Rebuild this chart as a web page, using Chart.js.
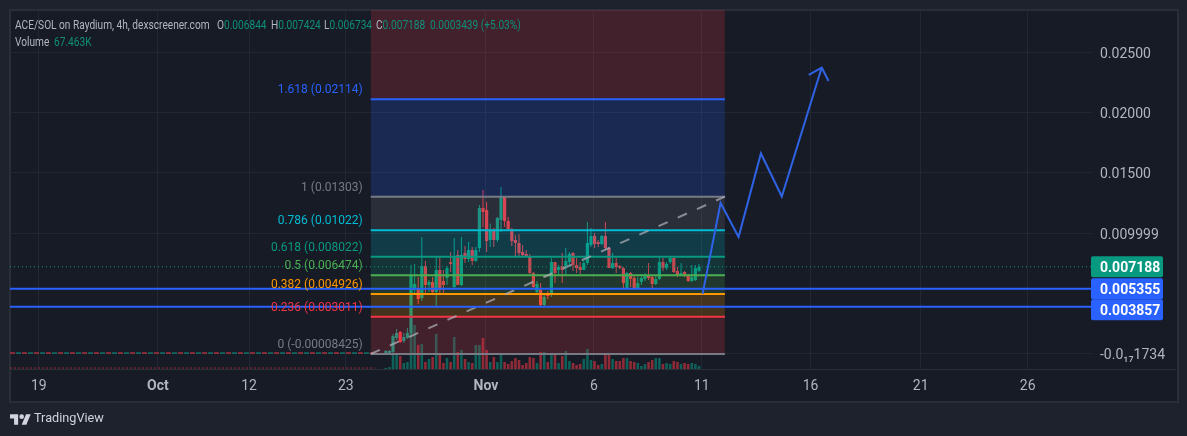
<!DOCTYPE html>
<html>
<head>
<meta charset="utf-8">
<title>ACE/SOL</title>
<script src="https://cdn.jsdelivr.net/npm/chart.js@4"></script>
<style>
  html, body { margin: 0; padding: 0; background: #1e222d; overflow: hidden; }
  body { width: 1187px; height: 436px; position: relative; font-family: Roboto, sans-serif; }
  #panel { position: absolute; left: 9px; top: 9px; width: 1166px; height: 390px; background: #171b26; border: 2px solid #2a2e39; }
  #sep { position: absolute; left: 10px; top: 369px; width: 1166px; height: 1px; background: #2a2e39; }
  canvas { position: absolute; left: 0; top: 0; }
  .t { position: absolute; font-size: 13px; line-height: 14px; color: #b2b5be; white-space: nowrap; z-index: 2; transform: scaleX(0.78); transform-origin: left center; }
  .g { color: #0f8f78; }
  #logo { position: absolute; left: 10px; top: 412px; width: 21px; height: 14px; fill: #d1d4dc; }
  #brand { position: absolute; left: 34px; top: 410px; font-size: 12.7px; line-height: 16px; color: #d1d4dc; }
</style>
</head>
<body>
<div id="panel"></div>
<div id="sep"></div>
<canvas id="chart" width="1187" height="436"></canvas>
<div class="t" style="left:15px;top:18px">ACE/SOL on Raydium, 4h, dexscreener.com</div>
<div class="t" style="left:217px;top:18px">O<span class="g">0.006844</span></div>
<div class="t" style="left:271px;top:18px">H<span class="g">0.007424</span></div>
<div class="t" style="left:324px;top:18px">L<span class="g">0.006734</span></div>
<div class="t" style="left:376px;top:18px">C<span class="g">0.007188</span></div>
<div class="t g" style="left:430px;top:18px">0.0003439 (+5.03%)</div>
<div class="t" style="left:15px;top:35px">Volume</div>
<div class="t g" style="left:54px;top:35px">67.463K</div>
<svg id="logo" viewBox="0 0 36 24"><path d="M14 22H7V11H0V4h14v18zM28 22h-8l7.5-18h8L28 22z"/><circle cx="20" cy="8" r="4"/></svg>
<div id="brand">TradingView</div>

<script>
const opens = [0, -0.00008, 0.00008, 0.00125, 0.00175, 0.001, 0.00125, 0.00167, 0.00525, 0.00542, 0.00458, 0.00725, 0.00567, 0.00592, 0.00508, 0.00692, 0.006, 0.00625, 0.00758, 0.0055, 0.00817, 0.00567, 0.00833, 0.00783, 0.00858, 0.00767, 0.00875, 0.01208, 0.01192, 0.00942, 0.01025, 0.00942, 0.01108, 0.013, 0.011, 0.01033, 0.00942, 0.00917, 0.00842, 0.00825, 0.00808, 0.00667, 0.00508, 0.00525, 0.004, 0.005, 0.005, 0.00758, 0.00692, 0.00725, 0.00717, 0.00758, 0.00833, 0.00733, 0.00717, 0.00692, 0.00750, 0.009, 0.00975, 0.00925, 0.00908, 0.00975, 0.00875, 0.00708, 0.0075, 0.00725, 0.00708, 0.00542, 0.00667, 0.00625, 0.00542, 0.00592, 0.00617, 0.00642, 0.00633, 0.00575, 0.00617, 0.00758, 0.00708, 0.00758, 0.00792, 0.00683, 0.00650, 0.00675, 0.00642, 0.006, 0.00608, 0.006844];
const highs = [0.00025, 0.00025, 0.00158, 0.002, 0.00183, 0.00167, 0.00208, 0.00733, 0.00742, 0.00633, 0.00967, 0.00767, 0.00608, 0.00633, 0.008, 0.008, 0.00692, 0.00725, 0.00842, 0.00958, 0.00858, 0.00967, 0.00892, 0.00925, 0.00883, 0.00883, 0.01233, 0.01358, 0.01258, 0.0108, 0.01042, 0.01133, 0.01383, 0.01308, 0.01133, 0.01042, 0.00983, 0.00992, 0.009, 0.00858, 0.00825, 0.00675, 0.006, 0.00583, 0.00483, 0.00517, 0.00792, 0.00758, 0.00733, 0.00833, 0.00875, 0.00842, 0.00842, 0.00792, 0.00758, 0.00767, 0.01092, 0.01042, 0.01, 0.00942, 0.00983, 0.01092, 0.00883, 0.00833, 0.00792, 0.00733, 0.00717, 0.00675, 0.00675, 0.00642, 0.00633, 0.00658, 0.00667, 0.0075, 0.00642, 0.00650, 0.00792, 0.00792, 0.00758, 0.00792, 0.00792, 0.00717, 0.0075, 0.00683, 0.00658, 0.00733, 0.00733, 0.007424];
const lows = [-0.00008, -0.00008, 0, 0.00108, 0.00083, 0.00083, 0.00117, 0.0015, 0.005, 0.00408, 0.00433, 0.005, 0.00508, 0.005, 0.00392, 0.00483, 0.00483, 0.00567, 0.00675, 0.00542, 0.00567, 0.00558, 0.0075, 0.00758, 0.00733, 0.00758, 0.00842, 0.0105, 0.00842, 0.00883, 0.00883, 0.00925, 0.01008, 0.0105, 0.01025, 0.00892, 0.00792, 0.008, 0.008, 0.008, 0.00658, 0.00542, 0.005, 0.00392, 0.00392, 0.00450, 0.00467, 0.00583, 0.00642, 0.00583, 0.00650, 0.00733, 0.00683, 0.00667, 0.00658, 0.00692, 0.00733, 0.00883, 0.00875, 0.00883, 0.009, 0.00858, 0.00708, 0.007, 0.00667, 0.007, 0.00542, 0.00542, 0.00550, 0.00533, 0.00533, 0.00567, 0.006, 0.00608, 0.00542, 0.00567, 0.00608, 0.00683, 0.00692, 0.00742, 0.00667, 0.00633, 0.00650, 0.00633, 0.00592, 0.00592, 0.006, 0.006734];
const closes = [0.00017, 0.00017, 0.00142, 0.00167, 0.00092, 0.00133, 0.00167, 0.00642, 0.00575, 0.0045, 0.00725, 0.00567, 0.00592, 0.00508, 0.00692, 0.00525, 0.00567, 0.00708, 0.00742, 0.00808, 0.00567, 0.00817, 0.00783, 0.00858, 0.00767, 0.00858, 0.01208, 0.01175, 0.00933, 0.01025, 0.00942, 0.01125, 0.013, 0.011, 0.01033, 0.00933, 0.00917, 0.00833, 0.00817, 0.00808, 0.00667, 0.0055, 0.00575, 0.004, 0.00467, 0.00475, 0.00758, 0.00667, 0.00717, 0.00692, 0.00767, 0.00825, 0.00733, 0.00708, 0.00692, 0.0075, 0.00917, 0.00975, 0.00908, 0.00908, 0.00975, 0.00875, 0.00708, 0.0075, 0.00717, 0.00708, 0.00583, 0.00667, 0.00617, 0.00542, 0.00583, 0.00625, 0.00642, 0.00625, 0.00575, 0.00617, 0.00758, 0.00708, 0.00742, 0.00792, 0.00675, 0.00650, 0.00667, 0.00642, 0.006, 0.00633, 0.00708, 0.007188];
const volumes = [22, 45, 338, 338, 292, 135, 158, 832, 990, 540, 562, 158, 225, 270, 788, 315, 135, 248, 158, 720, 382, 428, 225, 158, 135, 540, 540, 698, 428, 158, 270, 158, 338, 158, 112, 180, 248, 202, 90, 135, 270, 248, 135, 382, 382, 158, 315, 315, 135, 292, 405, 180, 135, 90, 112, 225, 450, 202, 180, 90, 112, 315, 315, 225, 180, 180, 248, 248, 180, 158, 135, 68, 112, 158, 202, 248, 248, 112, 135, 112, 180, 158, 112, 135, 112, 135, 112, 67.463];

const fibRatios = ["2.618", "1.618", "1", "0.786", "0.618", "0.5", "0.382", "0.236", "0"];
const fibPrices = [0.03424, 0.02114, 0.01303, 0.01022, 0.008022, 0.006474, 0.004926, 0.003011, -0.00008425];
const fibTexts = ["", "0.02114", "0.01303", "0.01022", "0.008022", "0.006474", "0.004926", "0.003011", "-0.00008425"];
const fibColors = ["242,54,69", "41,98,255", "120,123,134", "0,188,212", "8,153,129", "76,175,80", "255,152,0", "242,54,69", "120,123,134"];
const fibStartBar = -4.2;
const fibEndBar = 94.2;

const forecastBars = [88, 93, 98, 104.2, 110, 121.1];
const forecastPrices = [0.00492, 0.0125, 0.00967, 0.01663, 0.01304, 0.02379];
const arrowBars = [117.5, 121.1, 123];
const arrowPrices = [0.02317, 0.02379, 0.02267];

const lastPrice = 0.007188;
const blueLevels = [0.005355, 0.003857];
const boxPrices = [0.007188, 0.005355, 0.003857];
const boxLabels = ["0.007188", "0.005355", "0.003857"];
const boxColors = ["#089981", "#2962ff", "#2962ff"];

const yTickValues = [-1.734e-18, 0.009999, 0.015, 0.02, 0.025];
const yTickLabels = ["-0.0₁₇1734", "0.009999", "0.01500", "0.02000", "0.02500"];
const xTickBars = [-96.4, -63.3, -38, -11.1, 27.8, 57.8, 87.8, 118, 148.6, 178.3];
const xTickLabels = ["19", "Oct", "12", "23", "Nov", "6", "11", "16", "21", "26"];
const boldTicks = ["Oct", "Nov"];

const barMin = -104.4;
const barMax = 195.9;
const flatEndBar = -3;

Chart.defaults.font.family = "Roboto, sans-serif";

const isUp = (i) => closes[i] >= opens[i];
const upColor = "#089981";
const downColor = "#f23645";

function hline(x0, x1, y, color, extra) {
  return Object.assign({
    type: "line",
    data: [{ x: x0, y: y }, { x: x1, y: y }],
    borderColor: color,
    borderWidth: 2,
    pointRadius: 0,
    fill: false,
    tension: 0,
    yAxisID: "y",
  }, extra || {});
}

const datasets = [];

datasets.push({
  data: volumes.map((v, i) => ({ x: i, y: v })),
  yAxisID: "yVol",
  grouped: false,
  barThickness: 2.6,
  inflateAmount: 0,
  backgroundColor: volumes.map((v, i) => (isUp(i) ? "rgba(8,153,129,0.55)" : "rgba(242,54,69,0.55)")),
  order: 30,
});

datasets.push({
  data: opens.map((v, i) => ({ x: i, y: [lows[i], highs[i]] })),
  yAxisID: "y",
  grouped: false,
  barThickness: 1,
  inflateAmount: 0,
  backgroundColor: opens.map((v, i) => (isUp(i) ? upColor : downColor)),
  order: 22,
});

datasets.push({
  data: opens.map((v, i) => ({ x: i, y: [v, closes[i]] })),
  yAxisID: "y",
  grouped: false,
  barThickness: 3.2,
  inflateAmount: 0,
  backgroundColor: opens.map((v, i) => (isUp(i) ? upColor : downColor)),
  order: 21,
});

// flat stretch before the pair had any real trading
datasets.push(hline(barMin, flatEndBar, 0, "#f23645", { borderWidth: 1, borderDash: [5, 7], order: 25 }));
datasets.push(hline(barMin, flatEndBar, 0, "#089981", { borderWidth: 1, borderDash: [5, 7], borderDashOffset: 6, order: 24 }));
datasets.push(hline(barMin, flatEndBar, 22, "rgba(242,54,69,0.6)", { borderWidth: 1, borderDash: [2, 2], yAxisID: "yVol", order: 26 }));

// bands first, then the level lines on top so no band covers a line
fibPrices.forEach((price, i) => {
  if (i === fibPrices.length - 1) return;
  datasets.push(hline(fibStartBar, fibEndBar, price, "transparent", {
    borderWidth: 0,
    fill: { value: fibPrices[i + 1] },
    backgroundColor: `rgba(${fibColors[i]},0.2)`,
    order: 12,
  }));
});
fibPrices.forEach((price, i) => {
  datasets.push(hline(fibStartBar, fibEndBar, price, `rgb(${fibColors[i]})`, { order: 10 }));
});

datasets.push({
  type: "line",
  data: [{ x: fibStartBar, y: fibPrices[8] }, { x: fibEndBar, y: fibPrices[2] }],
  borderColor: "rgba(170,172,182,0.75)",
  borderWidth: 2,
  borderDash: [10, 11],
  pointRadius: 0,
  yAxisID: "y",
  order: 6,
});

datasets.push(hline(barMin, barMax, lastPrice, "#089981", { borderWidth: 1, borderDash: [1, 3], order: 5 }));
blueLevels.forEach((p) => datasets.push(hline(barMin, barMax, p, "#2962ff", { order: 4 })));

datasets.push({
  type: "line",
  data: forecastBars.map((b, i) => ({ x: b, y: forecastPrices[i] })),
  borderColor: "#2f63e6",
  borderWidth: 2,
  pointRadius: 0,
  tension: 0,
  yAxisID: "y",
  order: 3,
});
datasets.push({
  type: "line",
  data: arrowBars.map((b, i) => ({ x: b, y: arrowPrices[i] })),
  borderColor: "#2f63e6",
  borderWidth: 2,
  pointRadius: 0,
  tension: 0,
  yAxisID: "y",
  order: 3,
});

const overlayPlugin = {
  id: "overlay",
  beforeDraw(chart) {
    // canvas "middle" sits a little high with Roboto, nudge the axis labels down
    chart.scales.y.getLabelItems().forEach((item) => { item.options.translation[1] += 2; });
  },
  afterDraw(chart) {
    const ctx = chart.ctx;
    const y = chart.scales.y;
    const x = chart.scales.x;

    // fib level captions
    ctx.save();
    ctx.font = "12px Roboto, sans-serif";
    ctx.textAlign = "right";
    ctx.textBaseline = "middle";
    fibRatios.forEach((ratio, i) => {
      if (!fibTexts[i]) return;
      ctx.fillStyle = `rgb(${fibColors[i]})`;
      ctx.fillText(`${ratio} (${fibTexts[i]})`, x.getPixelForValue(fibStartBar) - 8, y.getPixelForValue(fibPrices[i]) - 9);
    });
    ctx.restore();

    // price boxes on the axis, pushed down when they would overlap
    const boxH = 21;
    const boxW = 72;
    let lastBottom = -Infinity;
    ctx.save();
    ctx.font = "bold 14px Roboto, sans-serif";
    ctx.textAlign = "left";
    ctx.textBaseline = "middle";
    boxPrices.forEach((p, i) => {
      let top = y.getPixelForValue(p) - boxH / 2;
      if (top < lastBottom) top = lastBottom;
      lastBottom = top + boxH;
      ctx.fillStyle = boxColors[i];
      ctx.beginPath();
      ctx.roundRect(chart.chartArea.right, top, boxW, boxH, 2);
      ctx.fill();
      ctx.fillStyle = "#ffffff";
      ctx.fillText(boxLabels[i], chart.chartArea.right + 9, top + boxH / 2 + 1.5);
    });
    ctx.restore();
  },
};

new Chart(document.getElementById("chart"), {
  type: "bar",
  data: { datasets: datasets },
  plugins: [overlayPlugin],
  options: {
    responsive: false,
    animation: false,
    layout: { padding: { left: 10, top: 10, right: 0, bottom: 0 } },
    plugins: { legend: { display: false }, tooltip: { enabled: false }, title: { display: false } },
    scales: {
      x: {
        type: "linear",
        offset: false,
        min: barMin,
        max: barMax,
        grid: { color: "#232733", drawTicks: false, offset: false },
        border: { display: false },
        afterBuildTicks: (s) => { s.ticks = xTickBars.map((value) => ({ value })); },
        afterFit: (s) => { s.height = 67; s.paddingLeft = 0; s.paddingRight = 0; },
        ticks: {
          autoSkip: false,
          maxRotation: 0,
          padding: 9,
          color: "#b2b5be",
          font: (c) => ({ size: 14, weight: boldTicks.includes(xTickLabels[c.index]) ? "bold" : "normal" }),
          callback: (v, i) => xTickLabels[i],
        },
      },
      y: {
        type: "linear",
        position: "right",
        min: -0.001333,
        max: 0.028583,
        grid: { color: "#232733", drawTicks: false },
        border: { display: false },
        afterBuildTicks: (s) => { s.ticks = yTickValues.map((value) => ({ value })); },
        afterFit: (s) => { s.width = 96; s.paddingTop = 0; s.paddingBottom = 0; },
        ticks: {
          autoSkip: false,
          padding: 9,
          crossAlign: "near",
          color: "#b2b5be",
          font: { size: 14 },
          callback: (v, i) => yTickLabels[i],
        },
      },
      yVol: {
        type: "linear",
        display: false,
        min: 0,
        max: 8077.5,
      },
    },
  },
});
</script>
</body>
</html>
